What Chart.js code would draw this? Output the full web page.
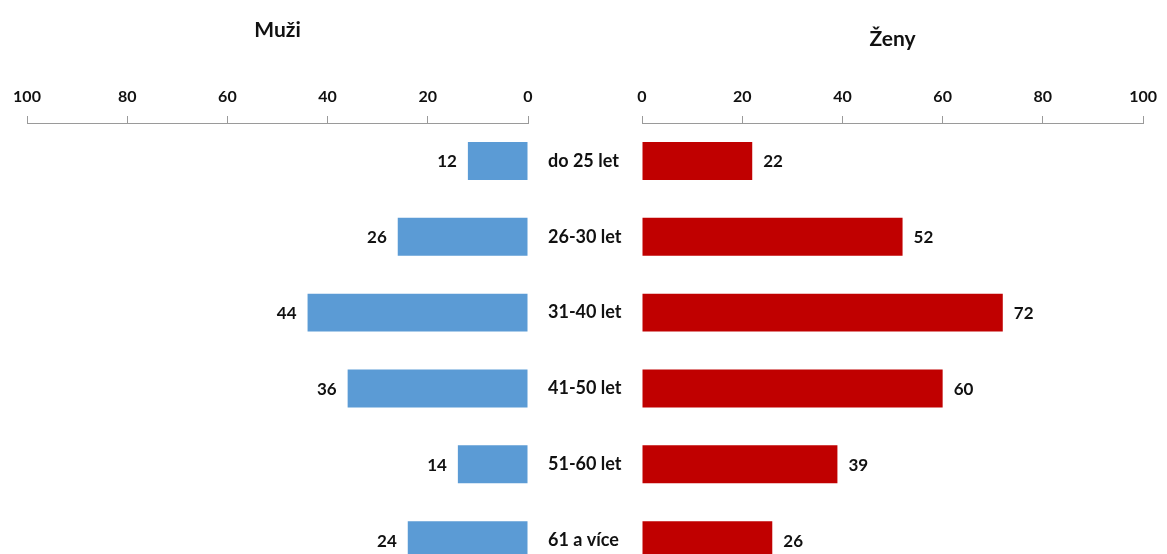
<!DOCTYPE html>
<html><head><meta charset="utf-8">
<script src="https://cdn.jsdelivr.net/npm/chart.js@4/dist/chart.umd.min.js"></script>
<style>
html,body{margin:0;padding:0;width:1167px;height:554px;overflow:hidden;background:#fff;}
#l{position:absolute;left:0;top:0;width:560px;height:590px;}
#r{position:absolute;left:528px;top:0;width:639px;height:590px;}
</style></head><body>
<div id="l"><canvas id="cl"></canvas></div>
<div id="r"><canvas id="cr"></canvas></div>
<script>
const categories = ['do 25 let', '26-30 let', '31-40 let', '41-50 let', '51-60 let', '61 a více'];
const menValues = [12, 26, 44, 36, 14, 24];
const womenValues = [22, 52, 72, 60, 39, 26];
const axisMin = 0, axisMax = 100, axisStep = 20;
const titleMen = 'Muži';
const titleWomen = 'Ženy';

const FONT = 'Lato';
const TEXT = '#111111';
const GREY = '#9a9a9a';
const TITLE_SIZE = 21;

const valueLabels = {
  id: 'valueLabels',
  afterDatasetsDraw(chart, args, opts) {
    const ctx = chart.ctx;
    const meta = chart.getDatasetMeta(0);
    const data = chart.data.datasets[0].data;
    ctx.save();
    ctx.font = 'bold 17px ' + FONT;
    ctx.fillStyle = TEXT;
    ctx.textBaseline = 'middle';
    meta.data.forEach((bar, i) => {
      if (opts.side === 'left') { ctx.textAlign = 'right'; ctx.fillText(String(data[i]), bar.x - 11, bar.y + 1); }
      else { ctx.textAlign = 'left'; ctx.fillText(String(data[i]), bar.x + 11, bar.y + 1); }
    });
    ctx.restore();
  }
};

function xScale(reverse) {
  return {
    type: 'linear', position: 'top', reverse: reverse,
    min: axisMin, max: axisMax,
    ticks: { stepSize: axisStep, padding: 10, color: TEXT, font: { family: FONT, size: 16, weight: 'bold' } },
    grid: { display: true, drawOnChartArea: false, drawTicks: true, tickLength: 7, color: GREY, lineWidth: 1 },
    border: { display: true, color: GREY, width: 1 },
    afterFit: s => { s.height = 60; }
  };
}

function makeChart(id, values, color, title, padTop, side, isRight) {
  const lh = TITLE_SIZE * 1.2;
  return new Chart(document.getElementById(id), {
    type: 'bar',
    data: { labels: categories, datasets: [{ data: values, backgroundColor: color, borderWidth: 0, categoryPercentage: 1, barPercentage: 0.5 }] },
    plugins: [valueLabels],
    options: {
      indexAxis: 'y', responsive: true, maintainAspectRatio: false, animation: false,
      layout: { padding: isRight ? { left: 20, right: 21, top: 0, bottom: 12 } : { left: 27, right: 32, top: 0, bottom: 12 } },
      scales: {
        x: xScale(!isRight),
        y: isRight ? {
          position: 'left',
          ticks: { crossAlign: 'far', padding: 0, color: TEXT, font: { family: FONT, size: 18, weight: 'bold' } },
          grid: { display: false }, border: { display: false },
          afterFit: s => { s.width = 94; }
        } : { display: false }
      },
      plugins: {
        legend: { display: false }, tooltip: { enabled: false },
        title: { display: true, text: title, fullSize: false, color: TEXT, font: { family: FONT, size: TITLE_SIZE, weight: 'bold' }, padding: { top: padTop, bottom: 63 - padTop - lh } },
        valueLabels: { side: side }
      }
    }
  });
}

makeChart('cl', menValues, '#5B9BD5', titleMen, 30 - TITLE_SIZE * 0.6, 'left', false);
makeChart('cr', womenValues, '#C00000', titleWomen, 39 - TITLE_SIZE * 0.6, 'right', true);
</script>
</body></html>
